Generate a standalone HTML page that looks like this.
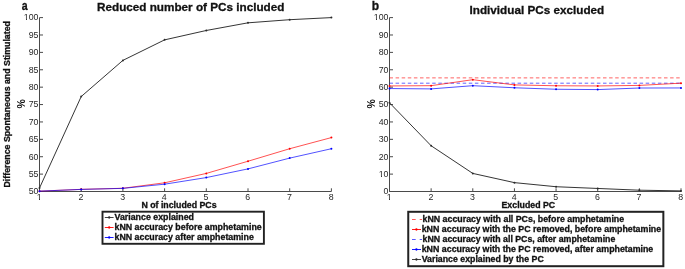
<!DOCTYPE html>
<html><head><meta charset="utf-8"><title>Figure</title>
<style>html,body{margin:0;padding:0;background:#fff;overflow:hidden}svg{display:block;will-change:transform}text{font-family:"Liberation Sans",Arial,Helvetica,sans-serif}</style></head><body>
<svg width="685" height="269" viewBox="0 0 685 269">
<rect width="685" height="269" fill="#fff"/>
<path d="M39.5 17.6V191.5H331.4" fill="none" stroke="#4a4a4a" stroke-width="1"/>
<path d="M39.5 191.5h3.5M39.5 174.11h3.5M39.5 156.72h3.5M39.5 139.33h3.5M39.5 121.94h3.5M39.5 104.55h3.5M39.5 87.16h3.5M39.5 69.77h3.5M39.5 52.38h3.5M39.5 34.99h3.5M39.5 17.6h3.5M39.5 191.5v-3.2M81.2 191.5v-3.2M122.9 191.5v-3.2M164.6 191.5v-3.2M206.3 191.5v-3.2M248 191.5v-3.2M289.7 191.5v-3.2M331.4 191.5v-3.2" fill="none" stroke="#4a4a4a" stroke-width="1"/>
<text transform="translate(38.5,194.3) scale(0.892,1)" font-size="9.9" text-anchor="end" fill="#262626">50</text>
<text transform="translate(38.5,176.91) scale(0.892,1)" font-size="9.9" text-anchor="end" fill="#262626">55</text>
<text transform="translate(38.5,159.52) scale(0.892,1)" font-size="9.9" text-anchor="end" fill="#262626">60</text>
<text transform="translate(38.5,142.13) scale(0.892,1)" font-size="9.9" text-anchor="end" fill="#262626">65</text>
<text transform="translate(38.5,124.74) scale(0.892,1)" font-size="9.9" text-anchor="end" fill="#262626">70</text>
<text transform="translate(38.5,107.35) scale(0.892,1)" font-size="9.9" text-anchor="end" fill="#262626">75</text>
<text transform="translate(38.5,89.96) scale(0.892,1)" font-size="9.9" text-anchor="end" fill="#262626">80</text>
<text transform="translate(38.5,72.57) scale(0.892,1)" font-size="9.9" text-anchor="end" fill="#262626">85</text>
<text transform="translate(38.5,55.18) scale(0.892,1)" font-size="9.9" text-anchor="end" fill="#262626">90</text>
<text transform="translate(38.5,37.79) scale(0.892,1)" font-size="9.9" text-anchor="end" fill="#262626">95</text>
<text transform="translate(38.5,20.4) scale(0.892,1)" font-size="9.9" text-anchor="end" fill="#262626">100</text>
<text transform="translate(39.2,199.8) scale(0.93,1)" font-size="9.5" text-anchor="middle" fill="#262626">1</text>
<text transform="translate(80.9,199.8) scale(0.93,1)" font-size="9.5" text-anchor="middle" fill="#262626">2</text>
<text transform="translate(122.6,199.8) scale(0.93,1)" font-size="9.5" text-anchor="middle" fill="#262626">3</text>
<text transform="translate(164.3,199.8) scale(0.93,1)" font-size="9.5" text-anchor="middle" fill="#262626">4</text>
<text transform="translate(206,199.8) scale(0.93,1)" font-size="9.5" text-anchor="middle" fill="#262626">5</text>
<text transform="translate(247.7,199.8) scale(0.93,1)" font-size="9.5" text-anchor="middle" fill="#262626">6</text>
<text transform="translate(289.4,199.8) scale(0.93,1)" font-size="9.5" text-anchor="middle" fill="#262626">7</text>
<text transform="translate(331.1,199.8) scale(0.93,1)" font-size="9.5" text-anchor="middle" fill="#262626">8</text>
<polyline points="39.5,188.02 81.2,96.55 122.9,60.38 164.6,39.86 206.3,30.47 248,22.82 289.7,19.69 331.4,17.6" fill="none" stroke="#2a2a2a" stroke-width="0.95"/>
<circle cx="39.5" cy="188.02" r="1.0" fill="#2a2a2a"/>
<circle cx="81.2" cy="96.55" r="1.0" fill="#2a2a2a"/>
<circle cx="122.9" cy="60.38" r="1.0" fill="#2a2a2a"/>
<circle cx="164.6" cy="39.86" r="1.0" fill="#2a2a2a"/>
<circle cx="206.3" cy="30.47" r="1.0" fill="#2a2a2a"/>
<circle cx="248" cy="22.82" r="1.0" fill="#2a2a2a"/>
<circle cx="289.7" cy="19.69" r="1.0" fill="#2a2a2a"/>
<circle cx="331.4" cy="17.6" r="1.0" fill="#2a2a2a"/>
<polyline points="39.5,191.15 81.2,189.34 122.9,188.27 164.6,182.81 206.3,173.41 248,161.24 289.7,148.72 331.4,137.59" fill="none" stroke="#ff0000" stroke-width="0.68"/>
<circle cx="39.5" cy="191.15" r="1.0" fill="#ff0000"/>
<circle cx="81.2" cy="189.34" r="1.0" fill="#ff0000"/>
<circle cx="122.9" cy="188.27" r="1.0" fill="#ff0000"/>
<circle cx="164.6" cy="182.81" r="1.0" fill="#ff0000"/>
<circle cx="206.3" cy="173.41" r="1.0" fill="#ff0000"/>
<circle cx="248" cy="161.24" r="1.0" fill="#ff0000"/>
<circle cx="289.7" cy="148.72" r="1.0" fill="#ff0000"/>
<circle cx="331.4" cy="137.59" r="1.0" fill="#ff0000"/>
<polyline points="39.5,191.15 81.2,189.41 122.9,188.37 164.6,184.2 206.3,177.59 248,168.89 289.7,158.11 331.4,148.72" fill="none" stroke="#0000ff" stroke-width="0.68"/>
<circle cx="39.5" cy="191.15" r="1.0" fill="#0000ff"/>
<circle cx="81.2" cy="189.41" r="1.0" fill="#0000ff"/>
<circle cx="122.9" cy="188.37" r="1.0" fill="#0000ff"/>
<circle cx="164.6" cy="184.2" r="1.0" fill="#0000ff"/>
<circle cx="206.3" cy="177.59" r="1.0" fill="#0000ff"/>
<circle cx="248" cy="168.89" r="1.0" fill="#0000ff"/>
<circle cx="289.7" cy="158.11" r="1.0" fill="#0000ff"/>
<circle cx="331.4" cy="148.72" r="1.0" fill="#0000ff"/>
<text transform="translate(21.8,10) scale(0.88,1)" font-size="12" font-weight="bold" stroke="#111" stroke-width="0.3" text-anchor="start" fill="#111">a</text>
<text transform="translate(97,10.8)" font-size="11.5" font-weight="bold" stroke="#111" stroke-width="0.3" text-anchor="start" fill="#111" textLength="187.42" lengthAdjust="spacingAndGlyphs">Reduced number of PCs included</text>
<text transform="translate(141.4,207.8)" font-size="8.2" font-weight="bold" stroke="#111" stroke-width="0.3" text-anchor="start" fill="#111" textLength="75.17" lengthAdjust="spacingAndGlyphs">N of included PCs</text>
<text transform="translate(9.9,187.5) rotate(-90)" font-size="8.8" font-weight="bold" stroke="#111" stroke-width="0.3" text-anchor="start" fill="#111" textLength="166.44" lengthAdjust="spacingAndGlyphs">Difference Spontaneous and Stimulated</text>
<text transform="translate(25,108.6) rotate(-90)" font-size="10.5" font-weight="bold" text-anchor="start" fill="#111">%</text>
<rect x="102.5" y="211.7" width="161.4" height="32.1" fill="#fff" stroke="#222" stroke-width="1.9"/>
<path d="M104.8 217.5h8.8" stroke="#2a2a2a" stroke-width="0.9"/><circle cx="109.2" cy="217.5" r="1.15" fill="#2a2a2a"/>
<text transform="translate(114.5,219.95)" font-size="8.6" font-weight="bold" stroke="#111" stroke-width="0.3" text-anchor="start" fill="#111" textLength="79.51" lengthAdjust="spacingAndGlyphs">Variance explained</text>
<path d="M104.8 227.5h8.8" stroke="#ff0000" stroke-width="0.9"/><circle cx="109.2" cy="227.5" r="1.15" fill="#ff0000"/>
<text transform="translate(114.5,229.95)" font-size="8.6" font-weight="bold" stroke="#111" stroke-width="0.3" text-anchor="start" fill="#111" textLength="147.21" lengthAdjust="spacingAndGlyphs">kNN accuracy before amphetamine</text>
<path d="M104.8 237.5h8.8" stroke="#0000ff" stroke-width="0.9"/><circle cx="109.2" cy="237.5" r="1.15" fill="#0000ff"/>
<text transform="translate(114.5,239.95)" font-size="8.6" font-weight="bold" stroke="#111" stroke-width="0.3" text-anchor="start" fill="#111" textLength="139.36" lengthAdjust="spacingAndGlyphs">kNN accuracy after amphetamine</text>
<path d="M389.5 17.6V191.5H681.0" fill="none" stroke="#4a4a4a" stroke-width="1"/>
<path d="M389.5 191.5h3.5M389.5 174.11h3.5M389.5 156.72h3.5M389.5 139.33h3.5M389.5 121.94h3.5M389.5 104.55h3.5M389.5 87.16h3.5M389.5 69.77h3.5M389.5 52.38h3.5M389.5 34.99h3.5M389.5 17.6h3.5M389.5 191.5v-3.2M431.14 191.5v-3.2M472.79 191.5v-3.2M514.43 191.5v-3.2M556.07 191.5v-3.2M597.71 191.5v-3.2M639.36 191.5v-3.2M681 191.5v-3.2" fill="none" stroke="#4a4a4a" stroke-width="1"/>
<text transform="translate(388.5,194.3) scale(0.892,1)" font-size="9.9" text-anchor="end" fill="#262626">0</text>
<text transform="translate(388.5,176.91) scale(0.892,1)" font-size="9.9" text-anchor="end" fill="#262626">10</text>
<text transform="translate(388.5,159.52) scale(0.892,1)" font-size="9.9" text-anchor="end" fill="#262626">20</text>
<text transform="translate(388.5,142.13) scale(0.892,1)" font-size="9.9" text-anchor="end" fill="#262626">30</text>
<text transform="translate(388.5,124.74) scale(0.892,1)" font-size="9.9" text-anchor="end" fill="#262626">40</text>
<text transform="translate(388.5,107.35) scale(0.892,1)" font-size="9.9" text-anchor="end" fill="#262626">50</text>
<text transform="translate(388.5,89.96) scale(0.892,1)" font-size="9.9" text-anchor="end" fill="#262626">60</text>
<text transform="translate(388.5,72.57) scale(0.892,1)" font-size="9.9" text-anchor="end" fill="#262626">70</text>
<text transform="translate(388.5,55.18) scale(0.892,1)" font-size="9.9" text-anchor="end" fill="#262626">80</text>
<text transform="translate(388.5,37.79) scale(0.892,1)" font-size="9.9" text-anchor="end" fill="#262626">90</text>
<text transform="translate(388.5,20.4) scale(0.892,1)" font-size="9.9" text-anchor="end" fill="#262626">100</text>
<text transform="translate(389.2,199.8) scale(0.93,1)" font-size="9.5" text-anchor="middle" fill="#262626">1</text>
<text transform="translate(430.84,199.8) scale(0.93,1)" font-size="9.5" text-anchor="middle" fill="#262626">2</text>
<text transform="translate(472.49,199.8) scale(0.93,1)" font-size="9.5" text-anchor="middle" fill="#262626">3</text>
<text transform="translate(514.13,199.8) scale(0.93,1)" font-size="9.5" text-anchor="middle" fill="#262626">4</text>
<text transform="translate(555.77,199.8) scale(0.93,1)" font-size="9.5" text-anchor="middle" fill="#262626">5</text>
<text transform="translate(597.41,199.8) scale(0.93,1)" font-size="9.5" text-anchor="middle" fill="#262626">6</text>
<text transform="translate(639.06,199.8) scale(0.93,1)" font-size="9.5" text-anchor="middle" fill="#262626">7</text>
<text transform="translate(680.7,199.8) scale(0.93,1)" font-size="9.5" text-anchor="middle" fill="#262626">8</text>
<polyline points="389.5,77.89 681,77.89" fill="none" stroke="#ff0000" stroke-width="0.62" stroke-dasharray="3.5 2.6"/>
<polyline points="389.5,83.2 681,83.2" fill="none" stroke="#0000ff" stroke-width="0.62" stroke-dasharray="3.5 2.6"/>
<polyline points="389.5,85.94 431.14,85.68 472.79,79.68 514.43,84.9 556.07,85.77 597.71,85.94 639.36,85.42 681,83.16" fill="none" stroke="#ff0000" stroke-width="0.68"/>
<circle cx="389.5" cy="85.94" r="1.0" fill="#ff0000"/>
<circle cx="431.14" cy="85.68" r="1.0" fill="#ff0000"/>
<circle cx="472.79" cy="79.68" r="1.0" fill="#ff0000"/>
<circle cx="514.43" cy="84.9" r="1.0" fill="#ff0000"/>
<circle cx="556.07" cy="85.77" r="1.0" fill="#ff0000"/>
<circle cx="597.71" cy="85.94" r="1.0" fill="#ff0000"/>
<circle cx="639.36" cy="85.42" r="1.0" fill="#ff0000"/>
<circle cx="681" cy="83.16" r="1.0" fill="#ff0000"/>
<polyline points="389.5,88.55 431.14,88.9 472.79,85.68 514.43,87.77 556.07,89.25 597.71,89.59 639.36,88.03 681,87.94" fill="none" stroke="#0000ff" stroke-width="0.68"/>
<circle cx="389.5" cy="88.55" r="1.0" fill="#0000ff"/>
<circle cx="431.14" cy="88.9" r="1.0" fill="#0000ff"/>
<circle cx="472.79" cy="85.68" r="1.0" fill="#0000ff"/>
<circle cx="514.43" cy="87.77" r="1.0" fill="#0000ff"/>
<circle cx="556.07" cy="89.25" r="1.0" fill="#0000ff"/>
<circle cx="597.71" cy="89.59" r="1.0" fill="#0000ff"/>
<circle cx="639.36" cy="88.03" r="1.0" fill="#0000ff"/>
<circle cx="681" cy="87.94" r="1.0" fill="#0000ff"/>
<polyline points="389.5,102.81 431.14,145.76 472.79,173.41 514.43,182.63 556.07,186.72 597.71,188.46 639.36,190.2 681,190.89" fill="none" stroke="#2a2a2a" stroke-width="0.95"/>
<circle cx="389.5" cy="102.81" r="1.0" fill="#2a2a2a"/>
<circle cx="431.14" cy="145.76" r="1.0" fill="#2a2a2a"/>
<circle cx="472.79" cy="173.41" r="1.0" fill="#2a2a2a"/>
<circle cx="514.43" cy="182.63" r="1.0" fill="#2a2a2a"/>
<circle cx="556.07" cy="186.72" r="1.0" fill="#2a2a2a"/>
<circle cx="597.71" cy="188.46" r="1.0" fill="#2a2a2a"/>
<circle cx="639.36" cy="190.2" r="1.0" fill="#2a2a2a"/>
<circle cx="681" cy="190.89" r="1.0" fill="#2a2a2a"/>
<text transform="translate(371.7,10)" font-size="12" font-weight="bold" stroke="#111" stroke-width="0.3" text-anchor="start" fill="#111">b</text>
<text transform="translate(469.5,13.5)" font-size="11.5" font-weight="bold" stroke="#111" stroke-width="0.3" text-anchor="start" fill="#111" textLength="134.74" lengthAdjust="spacingAndGlyphs">Individual PCs excluded</text>
<text transform="translate(501.5,208)" font-size="8.2" font-weight="bold" stroke="#111" stroke-width="0.3" text-anchor="start" fill="#111" textLength="53.7" lengthAdjust="spacingAndGlyphs">Excluded PC</text>
<text transform="translate(375,108.6) rotate(-90)" font-size="10.5" font-weight="bold" text-anchor="start" fill="#111">%</text>
<rect x="408.25" y="211.8" width="255.1" height="54.4" fill="#fff" stroke="#222" stroke-width="2"/>
<path d="M412 219.5h3.7m4 0h2.3" stroke="#ff0000" stroke-width="0.65" fill="none"/>
<text transform="translate(422.5,221.9)" font-size="8.6" font-weight="bold" stroke="#111" stroke-width="0.3" text-anchor="start" fill="#111" textLength="201.67" lengthAdjust="spacingAndGlyphs">kNN accuracy with all PCs, before amphetamine</text>
<path d="M412 229.5h9" stroke="#ff0000" stroke-width="0.9"/><circle cx="416.4" cy="229.5" r="1.15" fill="#ff0000"/>
<text transform="translate(421.7,231.9)" font-size="8.6" font-weight="bold" stroke="#111" stroke-width="0.3" text-anchor="start" fill="#111" textLength="239.44" lengthAdjust="spacingAndGlyphs">kNN accuracy with the PC removed, before amphetamine</text>
<path d="M412 239.5h3.7m4 0h2.3" stroke="#0000ff" stroke-width="0.65" fill="none"/>
<text transform="translate(422.5,241.9)" font-size="8.6" font-weight="bold" stroke="#111" stroke-width="0.3" text-anchor="start" fill="#111" textLength="192.84" lengthAdjust="spacingAndGlyphs">kNN accuracy with all PCs, after amphetamine</text>
<path d="M412 249.5h9" stroke="#0000ff" stroke-width="0.9"/><circle cx="416.4" cy="249.5" r="1.15" fill="#0000ff"/>
<text transform="translate(421.7,251.9)" font-size="8.6" font-weight="bold" stroke="#111" stroke-width="0.3" text-anchor="start" fill="#111" textLength="231.6" lengthAdjust="spacingAndGlyphs">kNN accuracy with the PC removed, after amphetamine</text>
<path d="M412 259.5h9" stroke="#2a2a2a" stroke-width="0.9"/><circle cx="416.4" cy="259.5" r="1.15" fill="#2a2a2a"/>
<text transform="translate(421.7,261.9)" font-size="8.6" font-weight="bold" stroke="#111" stroke-width="0.3" text-anchor="start" fill="#111" textLength="122.06" lengthAdjust="spacingAndGlyphs">Variance explained by the PC</text>
<path d="M24 19h2v1h-2zM27 19h2v1h-2zM374 19h2v1h-2zM377 19h2v1h-2zM379 176h2v1h-2zM382 176h2v1h-2zM37 199h2v1h-2zM40 199h2v1h-2zM387 199h2v1h-2zM390 199h2v1h-2z" fill="#fff" shape-rendering="crispEdges"/>
</svg></body></html>
